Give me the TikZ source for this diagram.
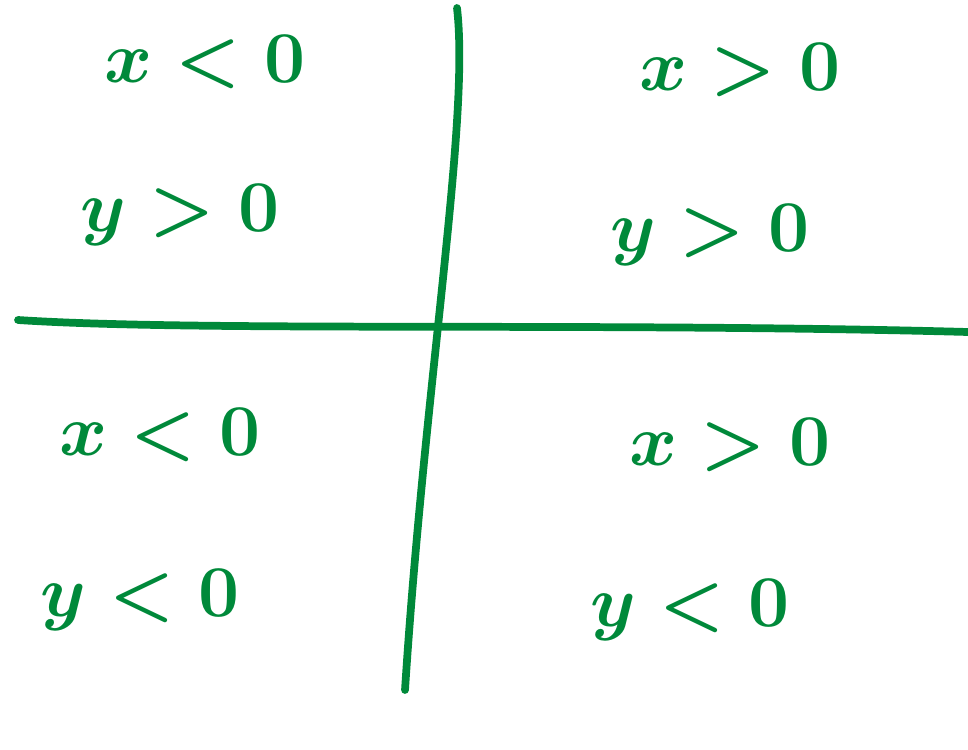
\documentclass[tikz,border=0pt]{standalone}
\usepackage{amsmath,amssymb}
\usepackage{tikz}
\usetikzlibrary{
	positioning,
	calc
}
\definecolor{penGreen}{RGB}{0,137,58}

\begin{document}
\begin{tikzpicture}[
				x=0.01cm, y=-0.01cm,
				axis/.style={
					draw=penGreen, line width=2.2pt, line cap=round, line join=round
				},
				cond/.style={
					text=penGreen, font=\fontsize{22}{26}\selectfont\boldmath,
					inner sep=0pt, anchor=center
				}
				]
				
				% canvas
				\useasboundingbox (0,0) rectangle (968,749);
				
				% axes
				\coordinate (vtop) at (457,8);
				\coordinate (vbot) at (405,690);
				\coordinate (hleft) at (18,320);
				\coordinate (hright) at (968,332);
				\draw[axis] (vtop) .. controls (470,120) and (425,380) .. (vbot);
				\draw[axis] (hleft) .. controls (200,332) and (600,322) .. (hright);
				
				% upper left
				\node[cond] (ulx) at (205,62) {$x<0$};
				\node[cond] (uly) at (180,215) {$y>0$};
				
				% upper right
				\node[cond] (urx) at (740,70) {$x>0$};
				\node[cond] (ury) at (710,235) {$y>0$};
				
				% lower left
				\node[cond] (llx) at (160,435) {$x<0$};
				\node[cond] (lly) at (140,600) {$y<0$};
				
				% lower right
				\node[cond] (lrx) at (730,445) {$x>0$};
				\node[cond] (lry) at (690,610) {$y<0$};
			\end{tikzpicture}
\end{document}
